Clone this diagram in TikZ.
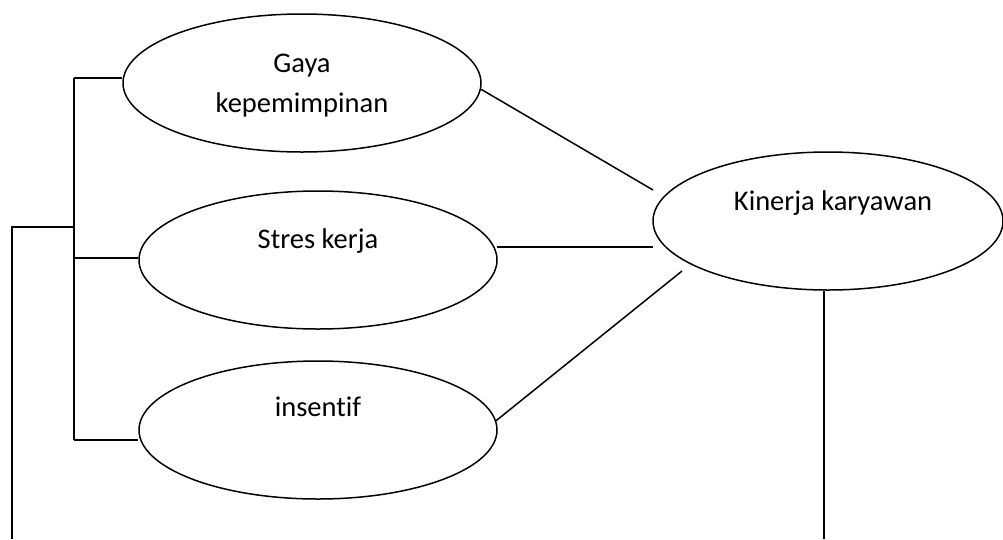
\documentclass[tikz,border=0pt]{standalone}
\usepackage{fontspec}
\setmainfont[Ligatures=NoCommon]{Carlito}
\usetikzlibrary{shapes.geometric,calc}
\begin{document}
\begin{tikzpicture}[x=1pt,y=-1pt,line width=1.5pt,
  oval/.style={draw,ellipse,inner sep=0pt,minimum width=358pt,minimum height=138pt},
  lbl/.style={anchor=base,font=\fontsize{28.5}{34}\selectfont,inner sep=0pt}]
\useasboundingbox (0,0) rectangle (1003,539);
% ellipses
\node[oval] (G) at (302,83) {};
\node[oval] (S) at (318,260) {};
\node[oval] (I) at (318,430) {};
\node[oval,minimum width=350pt] (K) at (828,221) {};
% labels
\node[lbl] (gt1) at (302,72) {Gaya};
\node[lbl] (gt2) at (302,112) {kepemimpinan};
\node[lbl] (st) at (318,248) {Stres kerja};
\node[lbl] (it) at (318,416) {insentif};
\node[lbl] (kt) at (833,210) {Kinerja karyawan};
% free ends
\coordinate (k1) at (653,190);
\coordinate (k2) at (653,247);
\coordinate (k3) at (682,271);
\coordinate (kb) at (824,539);
\coordinate (b1) at (74,78);
\coordinate (b2) at (74,258);
\coordinate (b3) at (74,440);
\coordinate (bm) at (74,227);
\coordinate (l1) at (12,227);
\coordinate (l2) at (12,539);
% connectors to Kinerja
\draw (G.-2) -- (k1);
\draw (S.east |- k2) ++(-1,0) -- (k2);
\draw (I.3) -- (k3);
\draw (kb |- K.south) -- (kb);
% bracket
\draw (b1) -- (G.west |- b1);
\draw (b2) -- (S.west |- b2);
\draw (b3) -- (I.west |- b3);
\draw (b1) -- (b3);
\draw (l2) -- (l1) -- (bm);
\end{tikzpicture}
\end{document}
